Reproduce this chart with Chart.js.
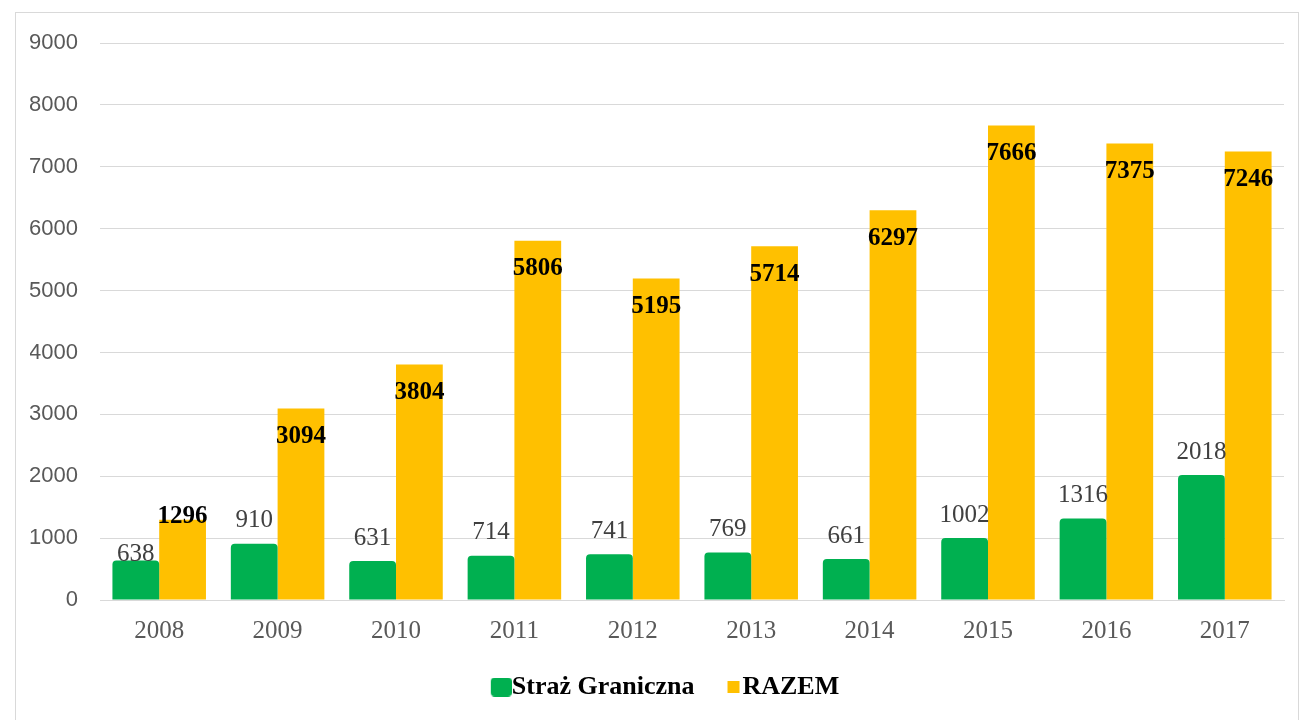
<!DOCTYPE html>
<html>
<head>
<meta charset="utf-8">
<script src="https://cdn.jsdelivr.net/npm/chart.js@4.4.1/dist/chart.umd.min.js"></script>
<style>
  html, body { margin: 0; padding: 0; background: #fff; }
  body { width: 1311px; height: 720px; overflow: hidden; position: relative; }
  #frame {
    position: absolute; left: 15px; top: 12px; width: 1284px; height: 720px;
    border: 1px solid #d9d9d9; box-sizing: border-box;
  }
  #chart { position: absolute; left: 0; top: 0; }
</style>
</head>
<body>
<div id="frame"><canvas id="chart" width="1282" height="707"></canvas></div>
<script>
var years = ["2008", "2009", "2010", "2011", "2012", "2013", "2014", "2015", "2016", "2017"];
var strazGraniczna = [638, 910, 631, 714, 741, 769, 661, 1002, 1316, 2018];
var razem = [1296, 3094, 3804, 5806, 5195, 5714, 6297, 7666, 7375, 7246];
var yTicks = [0, 1000, 2000, 3000, 4000, 5000, 6000, 7000, 8000, 9000];

var green = "#00b050";
var yellow = "#ffc000";

// legend swatch drawn at the right end of a wider transparent canvas,
// so it sits right next to the text like in the original
function legendSwatch(color, w, h, r) {
    var c = document.createElement("canvas");
    c.width = 36; c.height = h;
    var g = c.getContext("2d");
    g.fillStyle = color;
    g.beginPath();
    var x0 = color === green ? 36 - w : 33 - w;
    g.roundRect(x0, 0, w, h, r);
    g.fill();
    return c;
}
var greenSwatch = legendSwatch(green, 21, 19, 4);
var yellowSwatch = legendSwatch(yellow, 12, 12, 0);

// value labels: green above the bar, yellow just inside the top
var valueLabels = {
    id: "valueLabels",
    afterDatasetsDraw: function(chart) {
        var ctx = chart.ctx;
        ctx.save();
        ctx.textAlign = "center";
        ctx.textBaseline = "middle";
        chart.data.datasets.forEach(function(ds, di) {
            var meta = chart.getDatasetMeta(di);
            meta.data.forEach(function(bar, i) {
                var y;
                if (di === 0) {
                    ctx.font = "25px 'Liberation Serif'";
                    ctx.fillStyle = "#404040";
                    y = bar.y - 23;
                    if (i === 0) y = bar.y - 6;   // nudged in the original
                } else {
                    ctx.font = "bold 25px 'Liberation Serif'";
                    ctx.fillStyle = "#000";
                    y = bar.y + 28;
                    if (i === 0) y = bar.y - 3;
                }
                ctx.fillText(ds.data[i], bar.x, y);
            });
        });
        ctx.restore();
    }
};

// legend: a bit shorter box, and the items moved slightly up/right
var legendTweak = {
    id: "legendTweak",
    afterInit: function(chart) {
        var lg = chart.legend;
        var fit = lg.fit;
        lg.fit = function() {
            fit.call(this);
            this.height -= 7;
        };
    },
    afterLayout: function(chart) {
        var lg = chart.legend;
        lg.top -= 5; lg.bottom -= 5;
        lg.left += 7; lg.right += 7;
    }
};

var ctx = document.getElementById("chart").getContext("2d");
var myChart = new Chart(ctx, {
    type: "bar",
    data: {
        labels: years,
        datasets: [{
            label: "Straż Graniczna",
            data: strazGraniczna,
            backgroundColor: green,
            borderRadius: { topLeft: 4, topRight: 4 },
            borderSkipped: "bottom",
            barPercentage: 1,
            categoryPercentage: 0.79
        }, {
            label: "RAZEM",
            data: razem,
            backgroundColor: yellow,
            barPercentage: 1,
            categoryPercentage: 0.79
        }]
    },
    options: {
        responsive: false,
        animation: false,
        events: [],
        layout: { padding: { left: 14, right: 14, top: 30, bottom: 12 } },
        scales: {
            x: {
                grid: { display: false },
                border: { display: true, color: "#d9d9d9", width: 1 },
                ticks: {
                    color: "#595959",
                    font: { family: "'Liberation Serif'", size: 25 },
                    padding: 8
                }
            },
            y: {
                min: 0,
                max: 9000,
                afterBuildTicks: function(scale) {
                    scale.ticks = yTicks.map(function(v) { return { value: v }; });
                },
                afterFit: function(scale) {
                    scale.width = 70;
                    scale.paddingTop = 0;
                },
                grid: { color: "#d9d9d9", drawTicks: false },
                border: { display: false },
                ticks: {
                    color: "#595959",
                    font: { family: "'Liberation Sans'", size: 22 },
                    padding: 22,
                    callback: function(v) { return String(v); }
                }
            }
        },
        plugins: {
            tooltip: { enabled: false },
            legend: {
                position: "bottom",
                labels: {
                    usePointStyle: true,
                    pointStyleWidth: 10,
                    color: "#000",
                    font: { family: "'Liberation Serif'", size: 26, weight: "bold" },
                    padding: 25,
                    generateLabels: function(chart) {
                        return chart.data.datasets.map(function(ds, i) {
                            return {
                                text: ds.label,
                                fillStyle: ds.backgroundColor,
                                strokeStyle: ds.backgroundColor,
                                lineWidth: 0,
                                pointStyle: i === 0 ? greenSwatch : yellowSwatch,
                                datasetIndex: i,
                                hidden: false,
                                fontColor: "#000"
                            };
                        });
                    }
                }
            }
        }
    },
    plugins: [valueLabels, legendTweak]
});
</script>
</body>
</html>
